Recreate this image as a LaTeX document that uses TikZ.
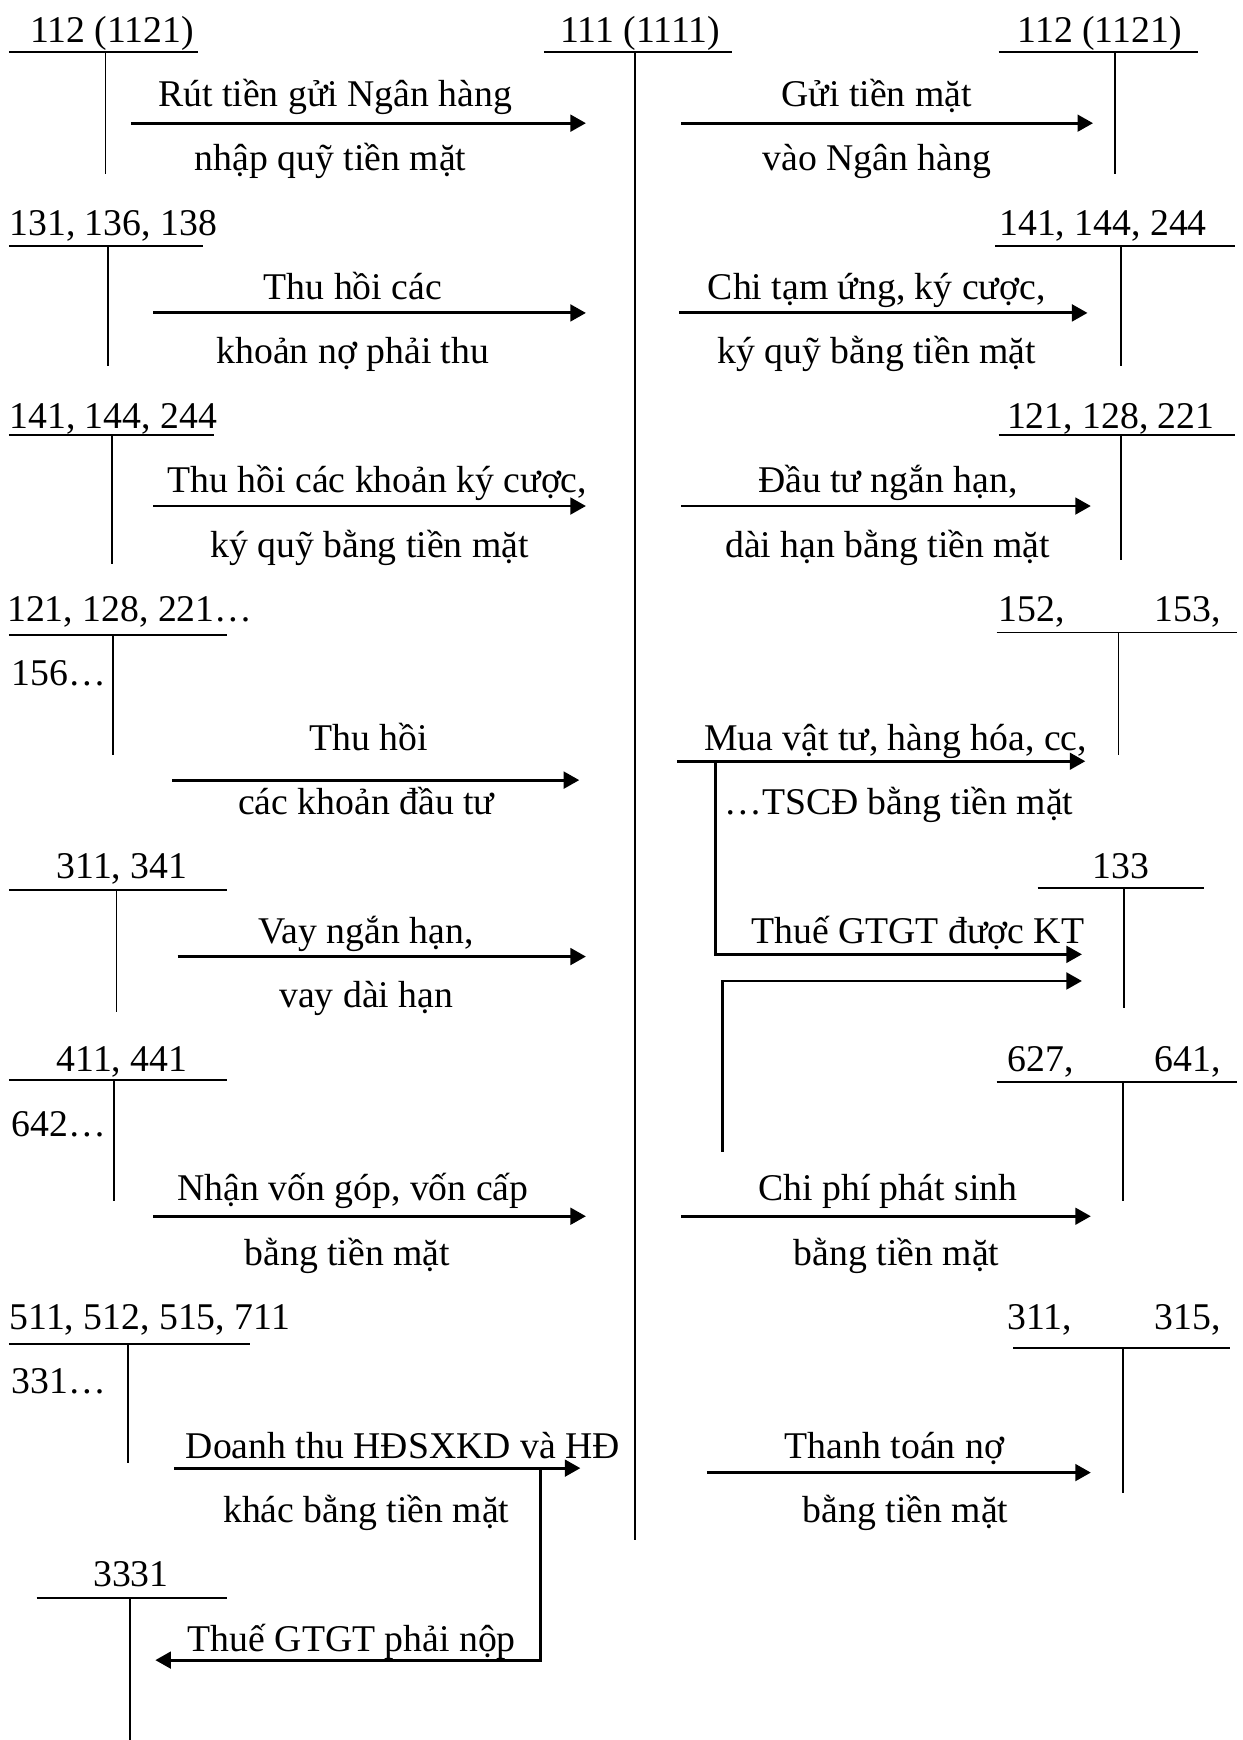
\documentclass[tikz,border=0pt]{standalone}
\usepackage{fontspec}
\setmainfont{Liberation Serif}
\usetikzlibrary{arrows.meta}

\begin{document}
\begin{tikzpicture}[x=0.5pt,y=-0.5pt,
    every node/.style={font=\fontsize{17}{20}\selectfont,inner sep=0pt},
    txt/.style={anchor=base},
    txtl/.style={anchor=base west},
    tline/.style={line width=0.8pt},
    flow/.style={line width=1.3pt,-{Triangle[length=7pt,width=7.5pt]}}]
  \useasboundingbox (0,0) rectangle (1120,1568);
  % T account: name, text, label x, label base, line y, line from, line to, stem x, stem end
  \def\tacct#1#2#3#4#5#6#7#8#9{
    \node[txt] (#1) at (#3,#4) {#2};
    \coordinate (#1l) at (#6,#5);
    \coordinate (#1r) at (#7,#5);
    \coordinate (#1top) at (#8,#5);
    \coordinate (#1bot) at (#8,#9);
    \draw[tline] (#1l) -- (#1r);
    \draw[tline] (#1top) -- (#1bot);
  }
  % entry: name, x from, x to, y, upper text, upper x, lower text, lower x, upper base
  \def\entry#1#2#3#4#5#6#7#8#9{
    \coordinate (#1a) at (#2,#4);
    \coordinate (#1b) at (#3,#4);
    \draw[flow] (#1a) -- (#1b);
    \node[txt] (#1up) at (#6,#9) {#5};
    \node[txt] (#1dn) at (#8,{#9+58}) {#7};
  }

  % accounts
  \tacct{tk112a}{112 (1121)}{101}{38}{47}{8}{178}{95}{157}
  \tacct{tk111}{111 (1111)}{577}{38}{47}{490}{660}{572}{1388}
  \tacct{tk112b}{112 (1121)}{991}{38}{47}{900}{1080}{1005}{157}
  \tacct{tk131}{131, 136, 138}{102}{212}{222}{8}{183}{97}{330}
  \tacct{tk141b}{141, 144, 244}{994}{212}{222}{897}{1113}{1010}{330}
  \tacct{tk141a}{141, 144, 244}{102}{386}{392}{8}{193}{101}{508}
  \tacct{tk121b}{121, 128, 221}{1001}{386}{392}{900}{1113}{1010}{505}
  \tacct{tk121a}{121, 128, 221…}{117}{560}{572}{8}{205}{102}{680}
  \node[txtl] (tk121x) at (10,618) {156…};
  \tacct{tk152}{\makebox[100pt][s]{152,\hfill 153,}}{1000}{560}{570}{898}{1115}{1008}{680}
  \tacct{tk133}{133}{1010}{792}{800}{935}{1085}{1013}{908}
  \tacct{tk311a}{311, 341}{110}{792}{802}{8}{205}{105}{912}
  \tacct{tk411}{411, 441}{110}{966}{973}{8}{205}{103}{1082}
  \node[txtl] (tk411x) at (10,1024) {642…};
  \tacct{tk627}{\makebox[96pt][s]{627,\hfill 641,}}{1004}{966}{975}{898}{1115}{1012}{1082}
  \tacct{tk511}{511, 512, 515, 711}{135}{1198}{1211}{8}{225}{115}{1318}
  \node[txtl] (tk511x) at (10,1256) {331…};
  \tacct{tk311b}{\makebox[96pt][s]{311,\hfill 315,}}{1004}{1198}{1215}{913}{1108}{1012}{1345}
  \tacct{tk3331}{3331}{118}{1430}{1440}{33}{205}{117}{1568}

  % receipts
  \entry{rut}{118}{528}{111}{Rút tiền gửi Ngân hàng}{302}{nhập quỹ tiền mặt}{298}{96}
  \entry{thu}{138}{528}{282}{Thu hồi các}{318}{khoản nợ phải thu}{318}{270}
  \entry{kyc}{138}{528}{456}{Thu hồi các khoản ký cược,}{340}{ký quỹ bằng tiền mặt}{333}{444}
  \entry{dtu}{155}{522}{703}{Thu hồi}{332}{các khoản đầu tư}{330}{676}
  \entry{vay}{160}{528}{862}{Vay ngắn hạn,}{330}{vay dài hạn}{330}{850}
  \entry{von}{138}{528}{1096}{Nhận vốn góp, vốn cấp}{318}{bằng tiền mặt}{313}{1082}
  \entry{dth}{157}{523}{1323}{Doanh thu HĐSXKD và HĐ}{363}{khác bằng tiền mặt}{330}{1314}

  % payments
  \entry{gui}{614}{985}{111}{Gửi tiền mặt}{790}{vào Ngân hàng}{790}{96}
  \entry{tam}{612}{980}{282}{Chi tạm ứng, ký cược,}{790}{ký quỹ bằng tiền mặt}{790}{270}
  \entry{dau}{614}{983}{456}{Đầu tư ngắn hạn,}{800}{dài hạn bằng tiền mặt}{800}{444}
  \entry{mua}{610}{978}{686}{Mua vật tư, hàng hóa, cc,}{807}{…TSCĐ bằng tiền mặt}{810}{676}
  \entry{cph}{614}{983}{1096}{Chi phí phát sinh}{800}{bằng tiền mặt}{808}{1082}
  \entry{ttn}{637}{983}{1327}{Thanh toán nợ}{806}{bằng tiền mặt}{816}{1314}

  % VAT branches
  \coordinate (vatin) at (645,686);
  \coordinate (vatinb) at (975,860);
  \draw[flow] (vatin) |- (vatinb);
  \node[txt] (vatinl) at (827,850) {Thuế GTGT được KT};
  \coordinate (cpvat) at (651,1038);
  \coordinate (cpvatb) at (975,884);
  \draw[flow] (cpvat) |- (cpvatb);
  \coordinate (vatout) at (487,1323);
  \coordinate (vatoutb) at (140,1496);
  \draw[flow] (vatout) |- (vatoutb);
  \node[txt] (vatoutl) at (317,1488) {Thuế GTGT phải nộp};
\end{tikzpicture}
\end{document}
